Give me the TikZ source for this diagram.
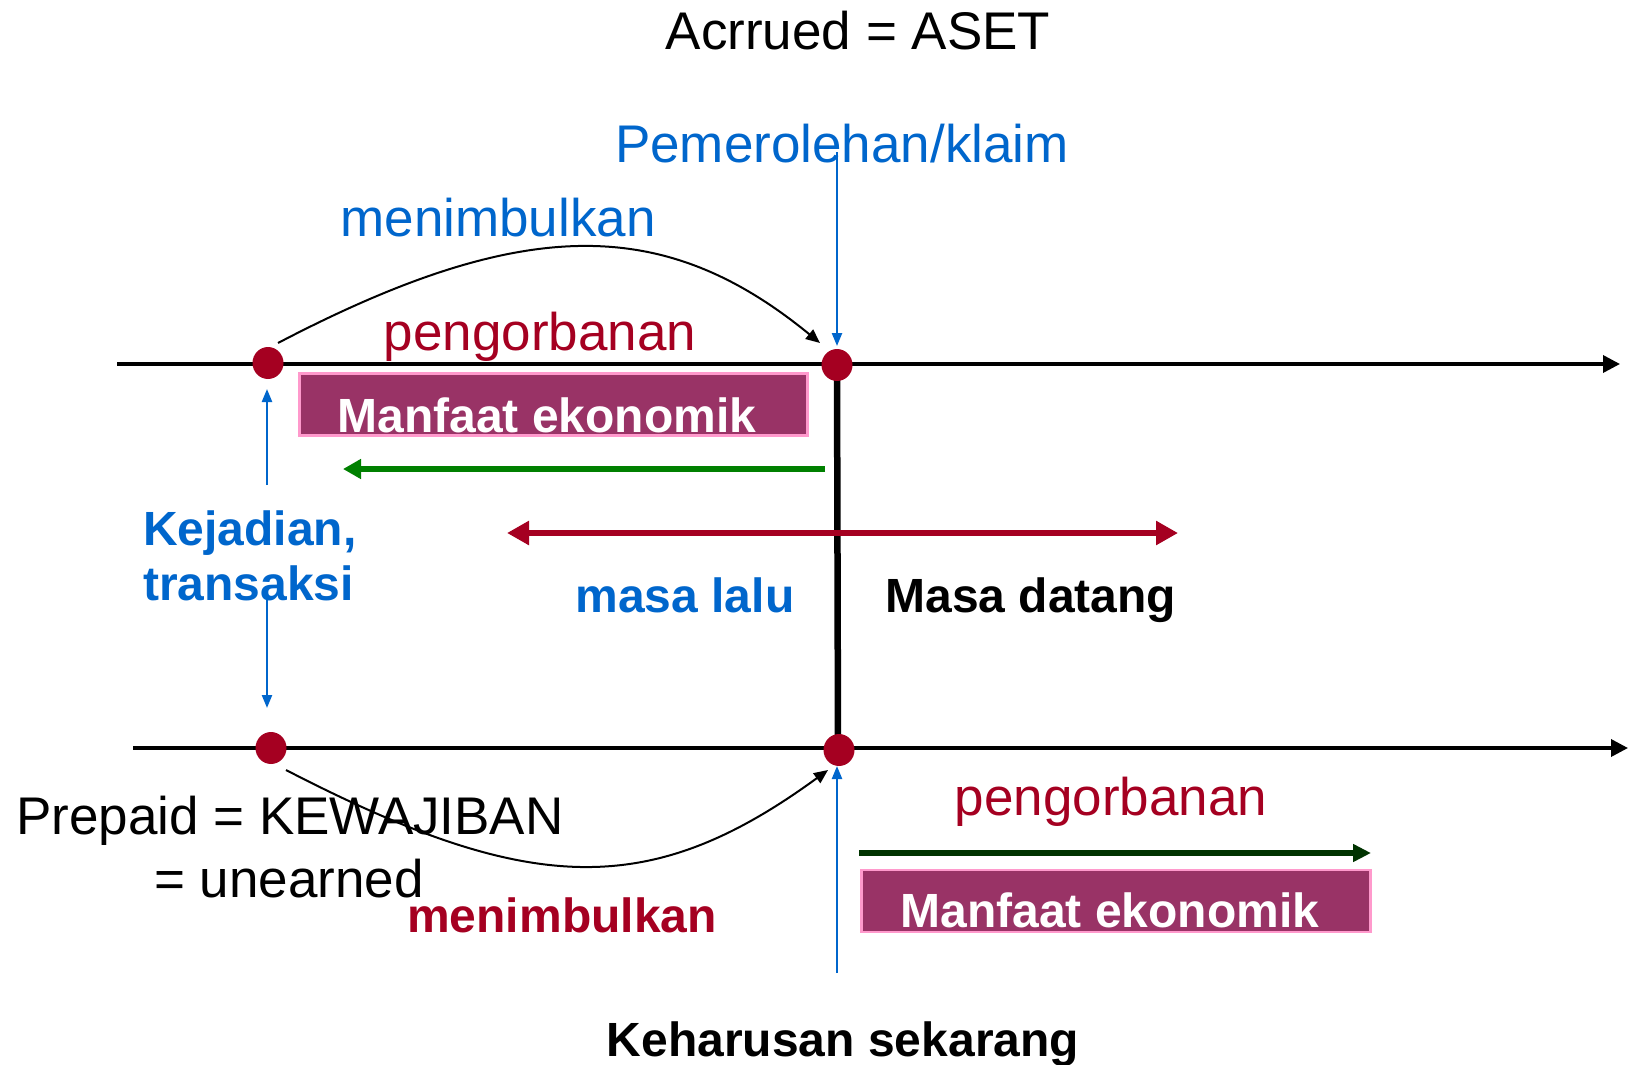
\documentclass[tikz,border=0pt]{standalone}
\usepackage{fontspec}
\setmainfont{Liberation Sans}
\usetikzlibrary{arrows.meta}
\definecolor{cblue}{HTML}{0066CC}
\definecolor{cred}{HTML}{A50021}
\definecolor{cbox}{HTML}{993366}
\definecolor{cpink}{HTML}{FF99CC}
\definecolor{cgreen}{HTML}{008000}
\definecolor{cdkgreen}{HTML}{003300}
\tikzset{
  big/.style={inner sep=0pt, font=\fontsize{53}{60}\selectfont},
  bigb/.style={inner sep=0pt, font=\fontsize{48}{56}\selectfont\bfseries},
  dot/.style={ellipse, fill=cred, minimum width=31pt, minimum height=32pt, inner sep=0pt},
  axis/.style={line width=3.5pt, -{Triangle[length=17pt,width=17pt]}},
  bluearr/.style={cblue, line width=2.3pt, -{Triangle[length=13pt,width=10pt]}},
  curvearr/.style={black, line width=2pt, -{Triangle[length=14pt,width=12pt]}},
  mbox/.style={draw=cpink, fill=cbox, line width=2.5pt, inner sep=0pt},
  mtext/.style={inner sep=0pt, text=white, font=\fontsize{48}{56}\selectfont\bfseries}
}
\usetikzlibrary{shapes.geometric}
\begin{document}
\begin{tikzpicture}[x=1pt,y=-1pt]
\useasboundingbox (0,0) rectangle (1628,1065);
\fill[white] (0,0) rectangle (1628,1065);

% axes
\coordinate (tl) at (117,364);
\coordinate (tr) at (1620,364);
\coordinate (bl) at (133,748);
\coordinate (br) at (1628,748);
\draw[axis] (tl) -- (tr);
\draw[axis] (bl) -- (br);

% vertical present line
\coordinate (vt) at (837,365);
\coordinate (vb) at (838,749);
\draw[line width=6.5pt] (vt) -- (vb);

% boxes
\node[mbox, minimum width=508pt, minimum height=62pt] (box1) at (553.5,404.5) {};
\node[mtext, anchor=base] (mt1) at (547,432) {Manfaat ekonomik};
\node[mbox, minimum width=509pt, minimum height=62pt] (box2) at (1116,901) {};
\node[mtext, anchor=base] (mt2) at (1110,927) {Manfaat ekonomik};

% dots
\node[dot] (d1) at (268,363) {};
\node[dot] (d2) at (837,365) {};
\node[dot] (d3) at (271,748) {};
\node[dot] (d4) at (839,750) {};

% texts
\node[big, anchor=base] (acr) at (858,50) {Acrrued = ASET};
\node[big, anchor=base, text=cblue] (pem) at (842,162) {Pemerolehan/klaim};
\node[big, anchor=base, text=cblue] (men1) at (498,236) {menimbulkan};
\node[big, anchor=base, text=cred] (peng1) at (540,350) {pengorbanan};
\node[bigb, anchor=base west, text=cblue] (kej) at (143,545) {Kejadian,};
\node[bigb, anchor=base west, text=cblue] (tra) at (143,600) {transaksi};
\node[bigb, anchor=base, text=cblue] (lalu) at (685,612) {masa lalu};
\node[bigb, anchor=base] (datang) at (1031,612) {Masa datang};
\node[big, anchor=base west] (prep) at (16,834) {Prepaid = KEWAJIBAN};
\node[big, anchor=base west] (unea) at (154,897) {= unearned};
\node[bigb, anchor=base, text=cred] (men2) at (562,932) {menimbulkan};
\node[big, anchor=base, text=cred] (peng2) at (1111,815) {pengorbanan};
\node[bigb, anchor=base] (kehar) at (843,1056) {Keharusan sekarang};

% blue arrows
\coordinate (pemtop) at (837,152);
\coordinate (pemtip) at (837,346);
\draw[bluearr] (pemtop) -- (pemtip);
\coordinate (kup0) at (267,485);
\coordinate (kup1) at (267,389);
\draw[bluearr] (kup0) -- (kup1);
\coordinate (kdn0) at (267,600);
\coordinate (kdn1) at (267,708);
\draw[bluearr] (kdn0) -- (kdn1);
\coordinate (kb0) at (837,973);
\coordinate (kb1) at (837,766);
\draw[bluearr] (kb0) -- (kb1);

% curved arrows
\coordinate (c1s) at (278,343);
\coordinate (c1e) at (820,343);
\draw[curvearr] (c1s) .. controls (525,214) and (665,216) .. (c1e);
\coordinate (c2s) at (286,770);
\coordinate (c2e) at (828,770);
\draw[curvearr] (c2s) .. controls (530,896) and (650,900) .. (c2e);

% green arrows
\coordinate (g1s) at (825,469);
\coordinate (g1e) at (343,469);
\draw[cgreen, line width=5.5pt, -{Triangle[length=18pt,width=19pt]}] (g1s) -- (g1e);
\coordinate (g2s) at (859,853);
\coordinate (g2e) at (1371,853);
\draw[cdkgreen, line width=5.5pt, -{Triangle[length=18pt,width=17pt]}] (g2s) -- (g2e);

% red double arrow
\coordinate (r1) at (507,533);
\coordinate (r2) at (1178,533);
\draw[cred, line width=6pt, {Triangle[length=22pt,width=23pt]}-{Triangle[length=22pt,width=23pt]}] (r1) -- (r2);
\end{tikzpicture}
\end{document}
